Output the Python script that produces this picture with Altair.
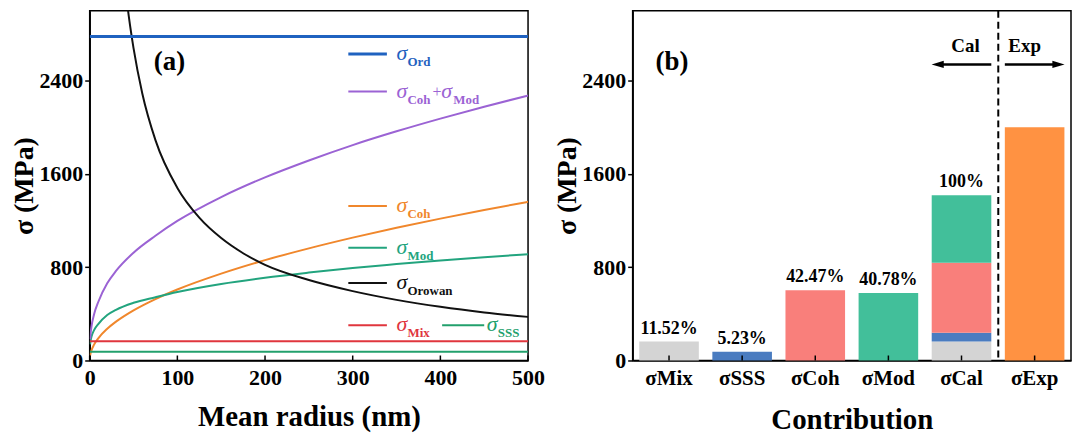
import altair as alt
import pandas as pd

# ---------------- panel (a) data ----------------
r_grow = [0.5, 1, 2, 5, 10, 20, 30, 50, 75, 100, 150, 200, 250, 300, 350, 400, 450, 500]
sig_coh = [43, 61, 86, 136, 192, 272, 333, 430, 527, 609, 745, 861, 962, 1054, 1139, 1217, 1291, 1361]
sig_mod = [139, 167, 203, 260, 314, 390, 435, 495, 543, 588, 657, 710, 754, 794, 827, 858, 886, 912]
sig_cohmod = [182, 228, 289, 396, 506, 662, 768, 925, 1070, 1197, 1402, 1571, 1716, 1848, 1966, 2075, 2177, 2273]
r_orowan = [40, 45, 50, 60, 75, 100, 125, 150, 175, 200, 250, 300, 350, 400, 450, 500]
sig_orowan = [3240, 2930, 2680, 2290, 1890, 1480, 1225, 1050, 920, 820, 690, 595, 520, 460, 412, 374]
r_flat = [0, 500]
sig_ord = 2780
sig_mix_line = 165
sig_sss_line = 75

series_names = ["Ord", "CohMod", "Coh", "Mod", "Orowan", "Mix", "SSS"]
series_colors = ["#1f62c0", "#9b63d4", "#f0872c", "#22a47e", "#111111", "#e0363e", "#22a06c"]

leg_names = ["Ord", "CohMod", "Coh", "Mod", "Orowan", "Mix", "SSS"]
leg_sub = ["Ord", "Coh", "Coh", "Mod", "Orowan", "Mix", "SSS"]
leg_y = [2630, 2307, 1325, 968, 665, 303, 303]
leg_x0 = [295, 295, 295, 295, 295, 295, 402]
leg_x1 = [339, 339, 339, 339, 339, 339, 450]
leg_tx = [350, 350, 350, 350, 350, 350, 453]

x_ticks_a = [0, 100, 200, 300, 400, 500]
y_ticks = [0, 800, 1600, 2400]

# ---------------- panel (b) data ----------------
cats = ["σMix", "σSSS", "σCoh", "σMod", "σCal", "σExp"]
comp_names = ["Mix", "SSS", "Coh", "Mod", "Exp"]
comp_colors = ["#d4d4d4", "#4a7cc0", "#f97f7b", "#42bf9a", "#ff9242"]
val_mix = 163
val_sss = 74
val_coh = 602
val_mod = 578
val_exp = 2000
pct_labels = ["11.52%", "5.23%", "42.47%", "40.78%", "100%"]

W, H = 440, 351
FONT = "Liberation Serif"

# ---------------- build panel (a) ----------------
rows = []
for r, v in zip(r_grow, sig_coh):
    rows.append(("Coh", r, v))
for r, v in zip(r_grow, sig_mod):
    rows.append(("Mod", r, v))
for r, v in zip(r_grow, sig_cohmod):
    rows.append(("CohMod", r, v))
for r, v in zip(r_orowan, sig_orowan):
    rows.append(("Orowan", r, v))
for r in r_flat:
    rows.append(("Ord", r, sig_ord))
    rows.append(("Mix", r, sig_mix_line))
    rows.append(("SSS", r, sig_sss_line))
df_a = pd.DataFrame(rows, columns=["name", "r", "sig"])

leg = pd.DataFrame({"name": leg_names, "sub": leg_sub, "sig": leg_y,
                    "x0": leg_x0, "x1": leg_x1, "tx": leg_tx})
ticks_a = pd.DataFrame({"r": x_ticks_a})

xs_a = alt.Scale(domain=[0, 500], nice=False)
ys = alt.Scale(domain=[0, 3000], nice=False)
col_a = alt.Scale(domain=series_names, range=series_colors)

ax_xa = alt.Axis(values=x_ticks_a, ticks=False, labelPadding=7, titlePadding=14,
                 titleFontSize=29, labelFlush=False, format="d")
ax_y = alt.Axis(values=y_ticks, tickSize=5, labelPadding=2, titlePadding=0,
                titleFontSize=28, format="d")

def xa(field="r"):
    return alt.X(f"{field}:Q", scale=xs_a, axis=ax_xa, title="Mean radius (nm)")

def ya(field="sig"):
    return alt.Y(f"{field}:Q", scale=ys, axis=ax_y, title="σ (MPa)")

color_a = alt.Color("name:N", scale=col_a, legend=None)
width_cond = alt.condition("datum.name == 'Ord'", alt.value(3), alt.value(2))

lines = alt.Chart(df_a).mark_line(clip=True, interpolate="monotone").encode(
    x=xa(), y=ya(), color=color_a, strokeWidth=width_cond, detail="name:N"
)

leg_lines = alt.Chart(leg).mark_rule().encode(
    x=xa("x0"), x2="x1:Q", y=ya(), color=color_a, strokeWidth=width_cond
)

sig_txt = alt.Chart(leg).mark_text(text="σ", font=FONT, fontStyle="italic", fontSize=22,
                                    align="left", baseline="alphabetic", dy=6).encode(
    x=xa("tx"), y=ya(), color=color_a
)
sub_txt = alt.Chart(leg).mark_text(font=FONT, fontWeight="bold", fontSize=13,
                                    align="left", baseline="alphabetic", dx=11, dy=12).encode(
    x=xa("tx"), y=ya(), text="sub:N", color=color_a
)
plus_txt = alt.Chart(leg).transform_filter("datum.name == 'CohMod'").mark_text(
    text="+", font=FONT, fontSize=16, align="left", baseline="alphabetic", dx=36, dy=5).encode(
    x=xa("tx"), y=ya(), color=color_a
)
sig2_txt = alt.Chart(leg).transform_filter("datum.name == 'CohMod'").mark_text(
    text="σ", font=FONT, fontStyle="italic", fontSize=22, align="left",
    baseline="alphabetic", dx=45, dy=6).encode(
    x=xa("tx"), y=ya(), color=color_a
)
sub2_txt = alt.Chart(leg).transform_filter("datum.name == 'CohMod'").mark_text(
    text="Mod", font=FONT, fontWeight="bold", fontSize=13, align="left",
    baseline="alphabetic", dx=57, dy=12).encode(
    x=xa("tx"), y=ya(), color=color_a
)

tag_a = alt.Chart(pd.DataFrame({"r": [91], "sig": [2560]})).mark_text(
    text="(a)", font=FONT, fontWeight="bold", fontSize=27, baseline="middle", color="black"
).encode(x=xa(), y=ya())

xtick_a = alt.Chart(ticks_a).mark_rule(color="black", strokeWidth=1.5).encode(
    x=xa(), y=alt.value(H), y2=alt.value(H - 5)
)

panel_a = alt.layer(lines, leg_lines, sig_txt, sub_txt, plus_txt, sig2_txt, sub2_txt,
                    tag_a, xtick_a).properties(width=W, height=H)

# ---------------- build panel (b) ----------------
brows = [
    ("σMix", "Mix", val_mix, 0),
    ("σSSS", "SSS", val_sss, 0),
    ("σCoh", "Coh", val_coh, 0),
    ("σMod", "Mod", val_mod, 0),
    ("σCal", "Mix", val_mix, 0),
    ("σCal", "SSS", val_sss, 1),
    ("σCal", "Coh", val_coh, 2),
    ("σCal", "Mod", val_mod, 3),
    ("σExp", "Exp", val_exp, 0),
]
df_b = pd.DataFrame(brows, columns=["cat", "comp", "sig", "ord"])
val_cal = val_mix + val_sss + val_coh + val_mod
df_lab = pd.DataFrame({"cat": cats[:5],
                       "sig": [val_mix, val_sss, val_coh, val_mod, val_cal],
                       "lab": pct_labels})
ticks_b = pd.DataFrame({"cat": cats})

xs_b = alt.Scale(domain=cats, paddingInner=0.185, paddingOuter=0.09)
ax_xb = alt.Axis(ticks=False, labelPadding=7, titlePadding=17, titleFontSize=29,
                 labelFontSize=21, labelAngle=0)
col_b = alt.Scale(domain=comp_names, range=comp_colors)

def xb(**kw):
    return alt.X("cat:N", scale=xs_b, axis=ax_xb, sort=cats, title="Contribution", **kw)

bars = alt.Chart(df_b).mark_bar().encode(
    x=xb(), y=alt.Y("sig:Q", scale=ys, axis=ax_y, title="σ (MPa)", stack="zero"),
    color=alt.Color("comp:N", scale=col_b, legend=None),
    order=alt.Order("ord:Q")
)

pct = alt.Chart(df_lab).mark_text(font=FONT, fontWeight="bold", fontSize=18,
                                  baseline="alphabetic", dy=-8, color="black").encode(
    x=xb(), y=ya(), text="lab:N"
)

xtick_b = alt.Chart(ticks_b).mark_rule(color="black", strokeWidth=1.5).encode(
    x=xb(), y=alt.value(H), y2=alt.value(H - 5)
)

dash = alt.Chart(pd.DataFrame({"cat": ["σCal"]})).mark_rule(
    color="black", strokeWidth=2, strokeDash=[7, 4], xOffset=7).encode(
    x=xb(bandPosition=1), y=alt.value(0), y2=alt.value(H)
)

ann_y = pd.DataFrame({"cat": ["σCal"], "sig": [2540]})
ann_y2 = pd.DataFrame({"cat": ["σExp"], "sig": [2540]})

arrow_cal = alt.Chart(ann_y).mark_rule(color="black", strokeWidth=2.5).encode(
    x=xb(bandPosition=0.1), x2=alt.X2("cat:N", bandPosition=1), y=ya()
)
arrow_exp = alt.Chart(ann_y2).mark_rule(color="black", strokeWidth=2.5).encode(
    x=xb(bandPosition=0), x2=alt.X2("cat:N", bandPosition=0.9), y=ya()
)
head_cal = alt.Chart(ann_y).mark_point(shape="M-1,0L1,-0.6L1,0.6Z", filled=True,
                                       size=150, color="black", opacity=1).encode(
    x=xb(bandPosition=0.1), y=ya()
)
head_exp = alt.Chart(ann_y2).mark_point(shape="M1,0L-1,-0.6L-1,0.6Z", filled=True,
                                        size=150, color="black", opacity=1).encode(
    x=xb(bandPosition=0.9), y=ya()
)
cal_txt = alt.Chart(pd.DataFrame({"cat": ["σCal"], "sig": [2700]})).mark_text(
    text="Cal", font=FONT, fontWeight="bold", fontSize=19, baseline="middle", dx=4,
    color="black").encode(x=xb(), y=ya())
exp_txt = alt.Chart(pd.DataFrame({"cat": ["σExp"], "sig": [2700]})).mark_text(
    text="Exp", font=FONT, fontWeight="bold", fontSize=19, baseline="middle", dx=-10,
    color="black").encode(x=xb(), y=ya())
tag_b = alt.Chart(pd.DataFrame({"cat": ["σMix"], "sig": [2560]})).mark_text(
    text="(b)", font=FONT, fontWeight="bold", fontSize=27, baseline="middle", dx=3,
    color="black").encode(x=xb(), y=ya())

panel_b = alt.layer(bars, pct, xtick_b, dash, arrow_cal, arrow_exp, head_cal, head_exp,
                    cal_txt, exp_txt, tag_b).properties(width=W, height=H)

chart = alt.hconcat(panel_a, panel_b, spacing=7).resolve_scale(
    color="independent"
).properties(
    padding={"left": 2, "top": 0, "right": 0, "bottom": 0}
).configure_axis(
    labelFont=FONT, titleFont=FONT, labelFontWeight="bold", titleFontWeight="bold",
    labelColor="black", titleColor="black", domainColor="black", tickColor="black",
    grid=False, labelFontSize=22, domainWidth=1.5, tickWidth=1.5
).configure_view(stroke="black", strokeWidth=1.5)

chart.save("out.html", embed_options={"renderer": "svg", "actions": False})
